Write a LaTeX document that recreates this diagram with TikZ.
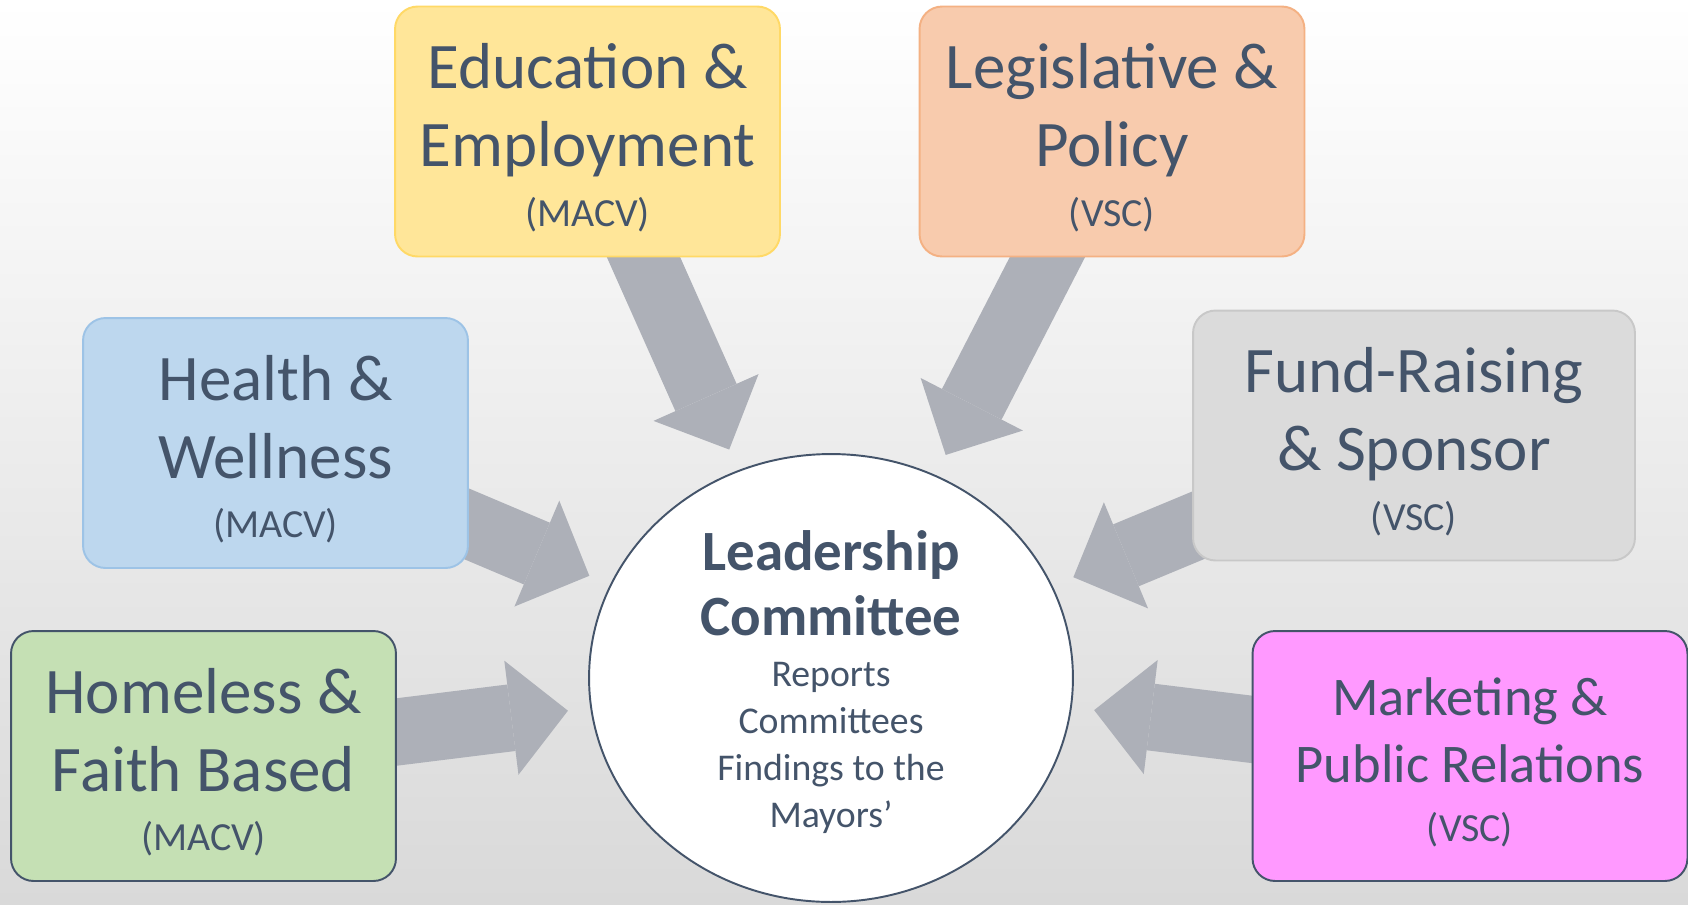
\documentclass[tikz,border=0pt]{standalone}
\usepackage{fontspec}
\setmainfont{Carlito}
\usetikzlibrary{arrows.meta,shapes.geometric}

\definecolor{txtblue}{HTML}{44546A}
\definecolor{edufill}{HTML}{FFE699}
\definecolor{eduline}{HTML}{FFD966}
\definecolor{legfill}{HTML}{F8CBAD}
\definecolor{legline}{HTML}{F4B183}
\definecolor{healthfill}{HTML}{BDD7EE}
\definecolor{healthline}{HTML}{9DC3E6}
\definecolor{fundfill}{HTML}{DBDBDB}
\definecolor{fundline}{HTML}{C8C8C8}
\definecolor{homefill}{HTML}{C5E0B4}
\definecolor{mktfill}{HTML}{FF99FF}
\definecolor{arrowgray}{HTML}{ADB0B8}
\definecolor{bggray}{HTML}{D9D9D9}

\newcommand{\boxfont}{\fontsize{37}{44.4}\selectfont}
\newcommand{\tagfont}{\fontsize{22.7}{27}\selectfont}
\newcommand{\mktfont}{\fontsize{31}{38}\selectfont}
\newcommand{\leadfont}{\fontsize{32.4}{37}\selectfont\bfseries}
\newcommand{\notefont}{\fontsize{21.5}{26}\selectfont\mdseries}

\pgfdeclarelayer{background}
\pgfsetlayers{background,main}

\begin{document}
\begin{tikzpicture}[x=0.02cm,y=-0.02cm]
                \tikzstyle{committee}=[rectangle,rounded corners=0.45cm,line width=1.1pt,inner sep=0pt,
                        minimum width=7.7cm,minimum height=5cm,align=center,text=txtblue,font=\boxfont,
                        text height=108pt,text depth=0pt]
                \tikzstyle{feed}=[draw=arrowgray,line width=1.34cm,shorten >=0.45cm,
                        -{Triangle[length=1.14cm,width=2.3cm,line width=0pt]}]
                \useasboundingbox (0,0) rectangle (1688,904);

                        \node[committee,fill=edufill,draw=eduline] (edu) at (587.5,131.5)
                                {Education \&\\ Employment\\[-10.4pt] {\tagfont (MACV)}};
                        \node[committee,fill=legfill,draw=legline] (leg) at (1112,131.5)
                                {Legislative \&\\ Policy\\[-10.4pt] {\tagfont (VSC)}};
                        \node[committee,fill=healthfill,draw=healthline] (health) at (275.5,443)
                                {Health \&\\ Wellness\\[-10.4pt] {\tagfont (MACV)}};
                        \node[committee,fill=fundfill,draw=fundline,minimum width=8.84cm] (fund) at (1414,435.5)
                                {Fund-Raising\\ \& Sponsor\\[-10.4pt] {\tagfont (VSC)}};
                        \node[committee,fill=homefill,draw=txtblue] (home) at (203.5,756)
                                {Homeless \&\\ Faith Based\\[-10.4pt] {\tagfont (MACV)}};
                        \node[committee,fill=mktfill,draw=txtblue,minimum width=8.7cm,font=\mktfont,text height=96.8pt] (mkt) at (1470,756)
                                {Marketing \&\\ Public Relations\\[-4.4pt] {\tagfont (VSC)}};

                        \node[ellipse,draw=txtblue,fill=white,line width=1.1pt,minimum width=9.68cm,minimum height=8.96cm,
                                inner sep=0pt,align=center,text=txtblue,font=\leadfont,text height=169.6pt,text depth=0pt] (lead) at (831,678)
                                {Leadership\\ Committee\\[-8pt] {\notefont Reports}\\[-10.3pt] {\notefont Committees}\\[-10.3pt]
                                 {\notefont Findings to the}\\[-10.3pt] {\notefont Mayors’}};

                \begin{pgfonlayer}{background}
                        \shade[top color=white,bottom color=bggray] (0,0) rectangle (1688,904);
                        \foreach \from in {edu,leg,health,fund,home,mkt}
                                \draw[feed] (\from.center) -- (lead);
                \end{pgfonlayer}
\end{tikzpicture}
\end{document}
